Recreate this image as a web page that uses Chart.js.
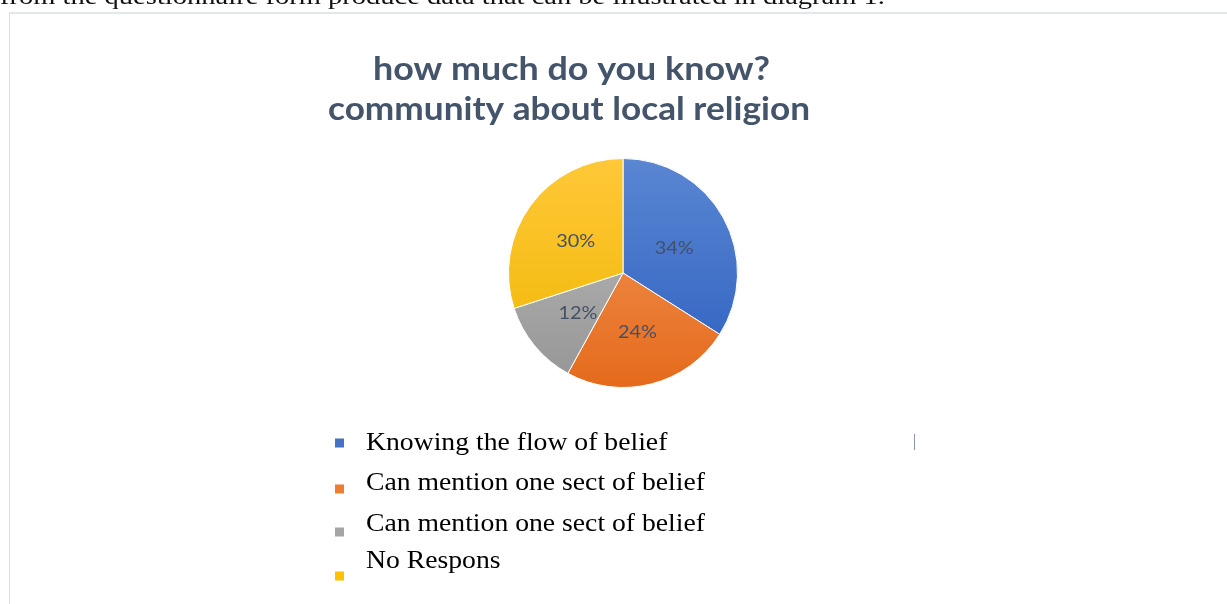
<!DOCTYPE html>
<html><head><meta charset="utf-8">
<script src="https://cdn.jsdelivr.net/npm/chart.js@4.4.1/dist/chart.umd.min.js"></script>
<style>
html,body{margin:0;padding:0;background:#fff;width:1227px;height:604px;overflow:hidden;}
#frame{position:absolute;left:9px;top:12px;width:1300px;height:700px;border-left:1px solid #dde1e7;border-top:2px solid #e3e7ec;}
#wrap{position:absolute;left:0;top:0;width:1227px;height:604px;}
#tick{position:absolute;left:914px;top:434px;width:1px;height:16px;background:#8796ab;}
</style></head><body>
<div id="frame"></div>
<div id="tick"></div>
<div id="wrap"><canvas id="c" width="1227" height="604"></canvas></div>
<script>
// ---- data ----
const captionText = 'from the questionnaire form produce data that can be illustrated in diagram 1.';
const titleLines = ['how much do you know?', 'community about local religion'];
const categories = ['Knowing the flow of belief', 'Can mention one sect of belief', 'Can mention one sect of belief', 'No Respons'];
const percentValues = [34, 24, 12, 30];
const colorsTop = ['#5a86d3', '#f39a5f', '#bdbdbd', '#ffc838'];
const colorsBottom = ['#2d60bf', '#e56a1b', '#959595', '#efb600'];
const colorsSolid = ['#4472c4', '#ed7d31', '#a5a5a5', '#ffc000'];

function drawFitted(ctx, text, x, y, font, targetW, align, color) {
  ctx.save();
  ctx.font = font;
  const w = ctx.measureText(text).width;
  const sx = targetW / w;
  ctx.translate(x, y);
  ctx.scale(sx, 1);
  ctx.textAlign = align;
  ctx.textBaseline = 'alphabetic';
  ctx.fillStyle = color;
  ctx.fillText(text, 0, 0);
  ctx.restore();
  return sx;
}

const textPlugin = {
  id: 'textPlugin',
  afterDraw(chart) {
    const ctx = chart.ctx;
    // caption (cut off at top)
    drawFitted(ctx, captionText, 0, 4, '24px "Liberation Serif"', 885, 'left', '#111');
    // title
    drawFitted(ctx, titleLines[0], 571.5, 80, 'bold 33px Lato', 397, 'center', '#44546a');
    drawFitted(ctx, titleLines[1], 569, 120, 'bold 33px Lato', 482, 'center', '#44546a');
    // percentage labels
    const meta = chart.getDatasetMeta(0);
    ctx.save();
    ctx.fillStyle = '#435166';
    ctx.textBaseline = 'middle';
    meta.data.forEach((arc, i) => {
      const p = arc.getProps(['x', 'y', 'startAngle', 'endAngle', 'outerRadius'], true);
      const mid = (p.startAngle + p.endAngle) / 2;
      const d = p.outerRadius * 0.51;
      ctx.font = '18px Lato';
      const t = chart.data.datasets[0].data[i] + '%';
      const sx = 39 / ctx.measureText(t).width;
      ctx.save();
      ctx.translate(p.x + Math.cos(mid) * d, p.y + Math.sin(mid) * d + 3);
      ctx.scale(sx, 1);
      ctx.textAlign = 'center';
      ctx.fillText(t, 0, 0);
      ctx.restore();
    });
    ctx.restore();
    // legend
    const baselines = [450, 490, 531, 568];
    const squareCenters = [443, 489, 532, 576];
    ctx.save();
    ctx.font = '26px "Liberation Serif"';
    const sx = 339 / ctx.measureText(categories[1]).width;
    chart.data.labels.forEach((lab, i) => {
      ctx.fillStyle = colorsSolid[i];
      ctx.fillRect(335, squareCenters[i] - 4.5, 9, 9);
      ctx.save();
      ctx.translate(366, baselines[i]);
      ctx.scale(sx, 1);
      ctx.fillStyle = '#000';
      ctx.textAlign = 'left';
      ctx.textBaseline = 'alphabetic';
      ctx.fillText(lab, 0, 0);
      ctx.restore();
    });
    ctx.restore();
  }
};

new Chart(document.getElementById('c'), {
  type: 'pie',
  data: {
    labels: categories,
    datasets: [{
      data: percentValues,
      backgroundColor: (c) => {
        const chart = c.chart;
        const i = c.dataIndex;
        if (!chart.chartArea || i === undefined) return colorsSolid[i || 0];
        const g = chart.ctx.createLinearGradient(0, chart.chartArea.top, 0, chart.chartArea.bottom);
        g.addColorStop(0, colorsTop[i]);
        g.addColorStop(1, colorsBottom[i]);
        return g;
      },
      borderColor: '#ffffff',
      borderWidth: 1
    }]
  },
  options: {
    responsive: false,
    animation: false,
    layout: { padding: { left: 508, right: 489, top: 158, bottom: 216 } },
    plugins: {
      legend: { display: false },
      title: { display: false },
      tooltip: { enabled: false }
    }
  },
  plugins: [textPlugin]
});
</script>
</body></html>
